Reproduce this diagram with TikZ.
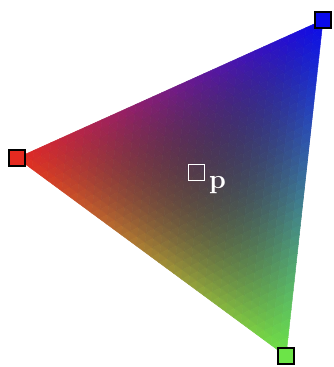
\documentclass[tikz,border=0pt]{standalone}
\definecolor{vred}{RGB}{228,42,32}
\definecolor{vgreen}{RGB}{108,228,72}
\definecolor{vblue}{RGB}{10,10,235}
\begin{document}
\begin{tikzpicture}[x=1bp,y=-1bp,
  vbox/.style={draw=black, line width=1.3bp, minimum size=16bp, inner sep=0pt, fill=#1},
  pbox/.style={draw=white, line width=1.3bp, minimum size=16bp, inner sep=0pt},
  plabel/.style={text=white, font=\fontsize{27}{27}\selectfont\bfseries, inner sep=0pt},
  cell/.style={fill=tc, draw=tc, line width=0.5bp, line join=round}]
\useasboundingbox (0,0) rectangle (334,367);
\coordinate (A) at (17,158);
\coordinate (B) at (323,20);
\coordinate (C) at (286,356);
\def\N{36}
\def\P#1#2{({17+(306*(#1)+269*(#2))/\N},{158+(-138*(#1)+198*(#2))/\N})}
\def\setcol#1#2{%
  \pgfmathsetmacro{\cU}{#1}%
  \pgfmathsetmacro{\cV}{#2}%
  \pgfmathsetmacro{\cW}{1-\cU-\cV}%
  \pgfmathsetmacro{\cF}{1-0.32*27*\cU*\cV*\cW}%
  \pgfmathsetmacro{\cR}{min(1,max(0,\cF*(\cW*228+\cU*10+\cV*108)/255))}%
  \pgfmathsetmacro{\cG}{min(1,max(0,\cF*(\cW*42+\cU*10+\cV*228)/255))}%
  \pgfmathsetmacro{\cB}{min(1,max(0,\cF*(\cW*32+\cU*235+\cV*72)/255))}%
  \definecolor{tc}{rgb}{\cR,\cG,\cB}}
\pgfmathtruncatemacro{\Nm}{\N-1}
\foreach \i in {0,...,\Nm}{
  \pgfmathtruncatemacro{\jmax}{\N-1-\i}
  \foreach \j in {0,...,\jmax}{
    \setcol{(\i+1/3)/\N}{(\j+1/3)/\N}
    \path[cell] \P{\i}{\j} -- \P{\i+1}{\j} -- \P{\i}{\j+1} -- cycle;
    \ifnum\numexpr\i+\j\relax<\Nm
      \setcol{(\i+2/3)/\N}{(\j+2/3)/\N}
      \path[cell] \P{\i+1}{\j} -- \P{\i+1}{\j+1} -- \P{\i}{\j+1} -- cycle;
    \fi
  }
}
\node[vbox=vred] (r) at (A) {};
\node[vbox=vblue] (b) at (B) {};
\node[vbox=vgreen] (g) at (C) {};
\node[pbox] (p) at (196.5,172.5) {};
\node[plabel, anchor=base west] (pl) at (209,188) {p};
\end{tikzpicture}
\end{document}
